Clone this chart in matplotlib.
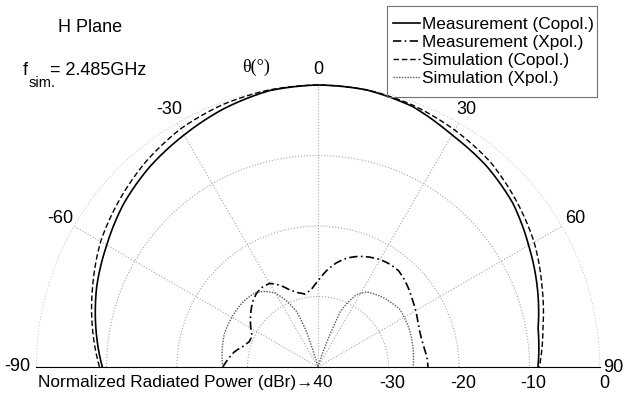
import numpy as np
import matplotlib.pyplot as plt
from matplotlib.patches import Rectangle
from matplotlib.transforms import offset_copy

plt.rcParams['font.family'] = ['Liberation Sans', 'DejaVu Sans']

### Data (theta in degrees, level in dBr) ###

angles = [-90, -80, -70, -60, -50, -40, -30, -20, -10, 0,
          10, 20, 30, 40, 50, 60, 70, 80, 90]
meas_copol = [-9.4, -8.0, -6.6, -5.4, -4.0, -2.9, -2.0, -1.0, -0.2, 0.0,
              -0.1, -0.7, -2.0, -2.8, -3.9, -5.5, -6.9, -8.3, -8.8]
sim_copol = [-9.0, -7.5, -6.0, -4.4, -3.2, -2.0, -1.0, -0.4, -0.1, 0.0,
             -0.1, -0.5, -1.2, -2.0, -3.3, -4.6, -6.2, -7.6, -8.6]

meas_xpol_angles = [-90, -85, -80, -75, -70, -65, -60, -55, -50, -45, -40, -35,
                    -30, -25, -20, -15, -10, -5, 0, 5, 10, 15, 20, 25, 30, 35,
                    40, 45, 50, 55, 60, 65, 70, 75, 80, 85, 90]
meas_xpol = [-26.5, -27.2, -27.9, -28.9, -29.6, -29.7, -29.0, -28.3, -27.6, -26.9,
             -26.4, -26.2, -26.3, -27.2, -28.4, -29.1, -29.5, -29.0, -27.8, -26.3,
             -25.0, -24.0, -23.3, -22.8, -22.4, -22.2, -22.2, -22.6, -23.1, -23.6,
             -24.0, -24.4, -24.7, -24.8, -24.7, -24.5, -24.4]

sim_xpol_angles = [-90, -80, -70, -60, -50, -40, -35, -30, -25, -21, -18, -16.5, -14,
                   0, 15, 17, 19, 20.7, 22, 25, 28, 33, 43, 55, 68, 80, 90]
sim_xpol = [-26.5, -26.2, -25.9, -25.9, -25.9, -26.2, -26.9, -27.9, -29.8, -31.6,
            -34.9, -38.5, -40.0, -40.0, -40.0, -39.0, -37.0, -34.4, -31.5, -29.8,
            -28.4, -27.3, -26.5, -25.8, -26.0, -26.3, -26.5]

labels = ['Measurement (Copol.)', 'Measurement (Xpol.)',
          'Simulation (Copol.)', 'Simulation (Xpol.)']

theta_ticks = [-90, -60, -30, 0, 30, 60, 90]
r_ticks = [-30, -20, -10, 0]

### Figure ###

W, H = 626, 394
fig = plt.figure(figsize=(W / 100, H / 100), dpi=100)

# wanted centre and rim radius of the half disc, in pixels from the top left
cx, cy, R = 318, 367, 282
ax = fig.add_axes([(cx - R) / W, (H - cy) / H, 2 * R / W, R / H], projection='polar')
ax.set_theta_zero_location('N')
ax.set_theta_direction(-1)
ax.set_thetamin(-90)
ax.set_thetamax(90)
ax.set_rlim(-40, 0)

# the wedge gets fitted inside the box, so nudge the box until it lands right
for _ in range(3):
  fig.canvas.draw()
  c = ax.transData.transform((0, -40))
  e = ax.transData.transform((np.pi / 2, 0))
  k = R / (e[0] - c[0])
  p = ax.get_position(original=True)
  x0 = cx / W - (c[0] / W - p.x0) * k
  y0 = (H - cy) / H - (c[1] / H - p.y0) * k
  ax.set_position([x0, y0, p.width * k, p.height * k])

ax.set_xticks(np.deg2rad(theta_ticks))
ax.set_xticklabels([])
ax.set_yticks(r_ticks)
ax.set_yticklabels([])
ax.grid(True, linestyle=':', color='0.65', linewidth=0.8)
for s in ax.spines.values():
  s.set_visible(False)

lines = []
lines += ax.plot(np.deg2rad(angles), meas_copol, color='black', lw=1.2, ls='-',
                 label=labels[0], clip_on=False)
lines += ax.plot(np.deg2rad(meas_xpol_angles), meas_xpol, color='black', lw=1.2,
                 ls=(0, (5, 2, 1, 2)), label=labels[1], clip_on=False)
lines += ax.plot(np.deg2rad(angles), sim_copol, color='black', lw=1.0,
                 ls=(0, (4, 2)), label=labels[2], clip_on=False)
lines += ax.plot(np.deg2rad(sim_xpol_angles), sim_xpol, color='0.35', lw=1.0,
                 ls=(0, (1, 1)), label=labels[3], clip_on=False)
# let the polar transform bend each segment instead of drawing chords
for ln in lines:
  ln.get_path()._interpolation_steps = 30

# angle labels just outside the rim
for t in theta_ticks:
  rr = {-90: 2.6, 90: 1.9}.get(t, 2.2)
  ax.text(np.deg2rad(t), rr, str(t), ha='center', va='center', fontsize=13,
          clip_on=False)

# radial labels under the horizontal axis
below = offset_copy(ax.transData, fig=fig, x=4, y=-16, units='dots')
for r in r_ticks:
  ax.text(np.pi / 2, r, str(r), transform=below, ha='center', va='center',
          fontsize=13, clip_on=False)
name = offset_copy(ax.transData, fig=fig, x=14, y=-16, units='dots')
ax.text(0, -40, 'Normalized Radiated Power (dBr)\u219240', transform=name,
        ha='right', va='center', fontsize=12.4, clip_on=False)

fig.text(58 / W, 1 - 28 / H, 'H Plane', ha='left', va='center', fontsize=13)
fig.text(23 / W, 1 - 75 / H, 'f', ha='left', va='baseline', fontsize=13)
fig.text(29 / W, 1 - 87 / H, 'sim.', ha='left', va='baseline', fontsize=10.5)
fig.text(50 / W, 1 - 75 / H, '= 2.485GHz', ha='left', va='baseline', fontsize=13)
fig.text(256 / W, 1 - 67 / H, '\u03b8(\u00b0)', ha='center', va='center',
         fontsize=13, family=['Liberation Serif', 'DejaVu Serif'])

# legend entries without their own frame; the box is drawn separately
fig.legend(loc='upper left', bbox_to_anchor=(393 / W, 1 - 17 / H),
           fontsize=12.4, frameon=False, borderpad=0, labelspacing=0.17,
           handlelength=1.57, handletextpad=0.12, borderaxespad=0)
fig.add_artist(Rectangle((387 / W, 1 - 97 / H), 210 / W, 91 / H,
                         transform=fig.transFigure, fill=False,
                         edgecolor='0.45', linewidth=0.8))

fig.savefig('out.png', dpi=100)
